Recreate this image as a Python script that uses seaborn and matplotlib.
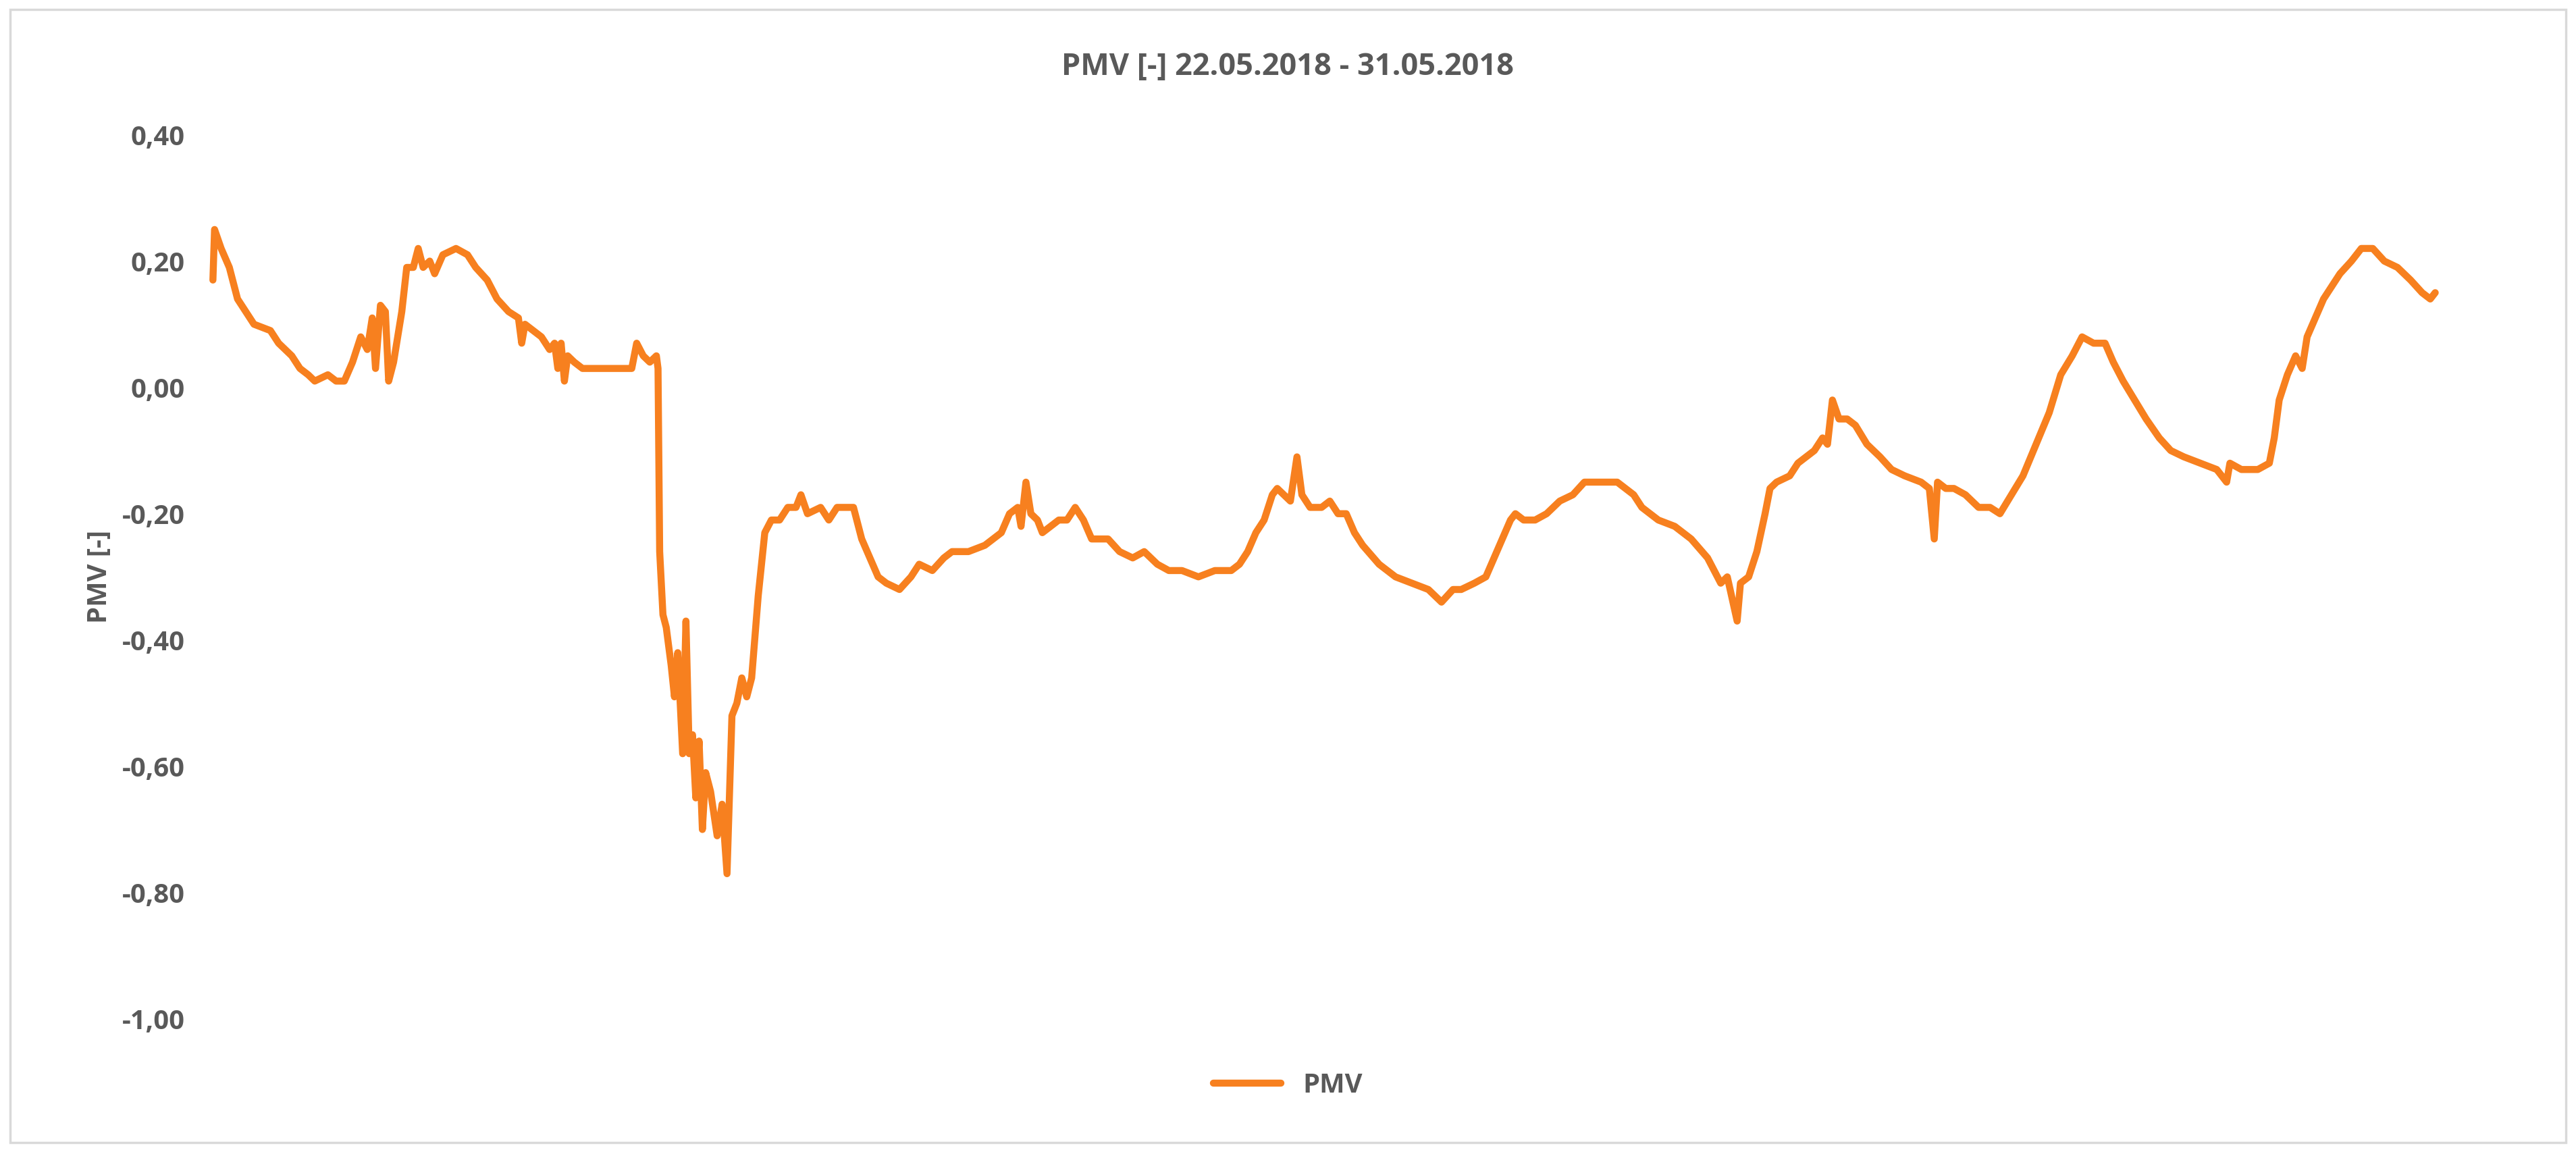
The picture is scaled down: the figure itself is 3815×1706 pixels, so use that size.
import numpy as np
import pandas as pd
import matplotlib
matplotlib.use("Agg")
from matplotlib import pyplot as plt
import seaborn as sns
from matplotlib.ticker import FuncFormatter

# sample position (arbitrary time index) and PMV value
t = [130, 131, 135, 140, 145, 150, 155, 165, 170, 178, 183, 188, 192, 200, 205, 210, 215, 220, 224, 227,
     229, 232, 235, 237, 240, 245, 248, 252, 255, 258, 262, 265, 270, 278, 285, 290, 297, 303, 310, 316,
     318, 320, 325, 330, 335, 338, 340, 342, 344, 346, 350, 355, 365, 375, 385, 388, 392, 396, 400, 401,
     402, 404, 406, 409, 411, 413, 416, 418, 420, 422, 424, 426, 428, 430, 433, 437, 440, 443, 446, 449,
     452, 455, 458, 462, 466, 470, 475, 480, 485, 488, 492, 500, 505, 510, 515, 520, 525, 530, 535, 540,
     548, 555, 560, 568, 575, 580, 590, 600, 610, 615, 620, 622, 625, 628, 632, 635, 640, 645, 650, 655,
     660, 665, 675, 682, 690, 697, 705, 712, 720, 730, 740, 750, 755, 760, 765, 770, 775, 778, 782, 786,
     790, 793, 798, 805, 810, 815, 820, 825, 830, 840, 850, 860, 870, 878, 885, 890, 898, 905, 910, 915,
     920, 923, 928, 935, 942, 950, 958, 965, 972, 985, 995, 1000, 1010, 1020, 1030, 1040, 1048, 1052, 1058, 1060,
     1065, 1070, 1075, 1078, 1082, 1090, 1095, 1100, 1105, 1110, 1113, 1116, 1120, 1125, 1130, 1137, 1145, 1152, 1160, 1170,
     1175, 1178, 1180, 1185, 1190, 1197, 1205, 1212, 1218, 1225, 1232, 1240, 1248, 1255, 1262, 1268, 1275, 1282, 1287, 1293,
     1300, 1307, 1315, 1322, 1330, 1340, 1350, 1356, 1358, 1365, 1375, 1382, 1385, 1388, 1393, 1398, 1402, 1405, 1410, 1415,
     1420, 1425, 1432, 1438, 1445, 1452, 1460, 1468, 1475, 1480, 1483]
pmv = [0.17, 0.25, 0.22, 0.19, 0.14, 0.12, 0.10, 0.09, 0.07, 0.05, 0.03, 0.02, 0.01, 0.02, 0.01, 0.01, 0.04, 0.08, 0.06, 0.11,
       0.03, 0.13, 0.12, 0.01, 0.04, 0.12, 0.19, 0.19, 0.22, 0.19, 0.20, 0.18, 0.21, 0.22, 0.21, 0.19, 0.17, 0.14, 0.12, 0.11,
       0.07, 0.10, 0.09, 0.08, 0.06, 0.07, 0.03, 0.07, 0.01, 0.05, 0.04, 0.03, 0.03, 0.03, 0.03, 0.07, 0.05, 0.04, 0.05, 0.03,
       -0.26, -0.36, -0.38, -0.44, -0.49, -0.42, -0.58, -0.37, -0.58, -0.55, -0.65, -0.56, -0.70, -0.61, -0.64, -0.71, -0.66, -0.77, -0.52, -0.50,
       -0.46, -0.49, -0.46, -0.33, -0.23, -0.21, -0.21, -0.19, -0.19, -0.17, -0.20, -0.19, -0.21, -0.19, -0.19, -0.19, -0.24, -0.27, -0.30, -0.31,
       -0.32, -0.30, -0.28, -0.29, -0.27, -0.26, -0.26, -0.25, -0.23, -0.20, -0.19, -0.22, -0.15, -0.20, -0.21, -0.23, -0.22, -0.21, -0.21, -0.19,
       -0.21, -0.24, -0.24, -0.26, -0.27, -0.26, -0.28, -0.29, -0.29, -0.30, -0.29, -0.29, -0.28, -0.26, -0.23, -0.21, -0.17, -0.16, -0.17, -0.18,
       -0.11, -0.17, -0.19, -0.19, -0.18, -0.20, -0.20, -0.23, -0.25, -0.28, -0.30, -0.31, -0.32, -0.34, -0.32, -0.32, -0.31, -0.30, -0.27, -0.24,
       -0.21, -0.20, -0.21, -0.21, -0.20, -0.18, -0.17, -0.15, -0.15, -0.15, -0.17, -0.19, -0.21, -0.22, -0.24, -0.27, -0.31, -0.30, -0.37, -0.31,
       -0.30, -0.26, -0.20, -0.16, -0.15, -0.14, -0.12, -0.11, -0.10, -0.08, -0.09, -0.02, -0.05, -0.05, -0.06, -0.09, -0.11, -0.13, -0.14, -0.15,
       -0.16, -0.24, -0.15, -0.16, -0.16, -0.17, -0.19, -0.19, -0.20, -0.17, -0.14, -0.09, -0.04, 0.02, 0.05, 0.08, 0.07, 0.07, 0.04, 0.01,
       -0.02, -0.05, -0.08, -0.10, -0.11, -0.12, -0.13, -0.15, -0.12, -0.13, -0.13, -0.12, -0.08, -0.02, 0.02, 0.05, 0.03, 0.08, 0.11, 0.14,
       0.16, 0.18, 0.20, 0.22, 0.22, 0.20, 0.19, 0.17, 0.15, 0.14, 0.15]

df = pd.DataFrame({'t': t, 'PMV': pmv})

sns.set_style("white")
plt.rcParams['font.family'] = ['Open Sans', 'DejaVu Sans']

grey = '#595959'
orange = '#F7801F'


def comma_fmt(v, p):
    v = round(v, 2) + 0.0
    if v == 0:
        v = 0.0
    return f'{v:.2f}'.replace('.', ',')


fig = plt.figure(figsize=(15.26, 6.824), dpi=250)
ax = fig.add_axes([0.075, 0.1155, 0.878, 0.7675])

sns.lineplot(data=df, x='t', y='PMV', ax=ax, color=orange, linewidth=3, label='PMV', sort=False)

ax.set_xlim(118, 1495)
ax.set_ylim(-1.0, 0.4)
ax.set_yticks(np.round(np.arange(-1.0, 0.41, 0.2), 2))
ax.yaxis.set_major_formatter(FuncFormatter(comma_fmt))
ax.set_xticks([])
ax.set_xlabel('')
ax.set_ylabel('PMV [-]', fontsize=11.5, fontweight='bold', color=grey)
ax.tick_params(axis='y', labelsize=11.5, labelcolor=grey, length=0)
for lbl in ax.get_yticklabels():
    lbl.set_fontweight('bold')
for s in ax.spines.values():
    s.set_visible(False)

fig.suptitle('PMV [-] 22.05.2018 - 31.05.2018', y=0.955, fontsize=13, fontweight='bold', color=grey)

ax.get_legend().remove()
leg = fig.legend(loc='center', bbox_to_anchor=(0.5, 0.058), frameon=False, fontsize=11.5, handlelength=2.5)
for txt in leg.get_texts():
    txt.set_color(grey)
    txt.set_fontweight('bold')

border = plt.Rectangle((0.004, 0.008), 0.992, 0.984, transform=fig.transFigure,
                       fill=False, edgecolor='#D9D9D9', linewidth=1)
fig.patches.append(border)

fig.savefig('out.png', dpi=250)
